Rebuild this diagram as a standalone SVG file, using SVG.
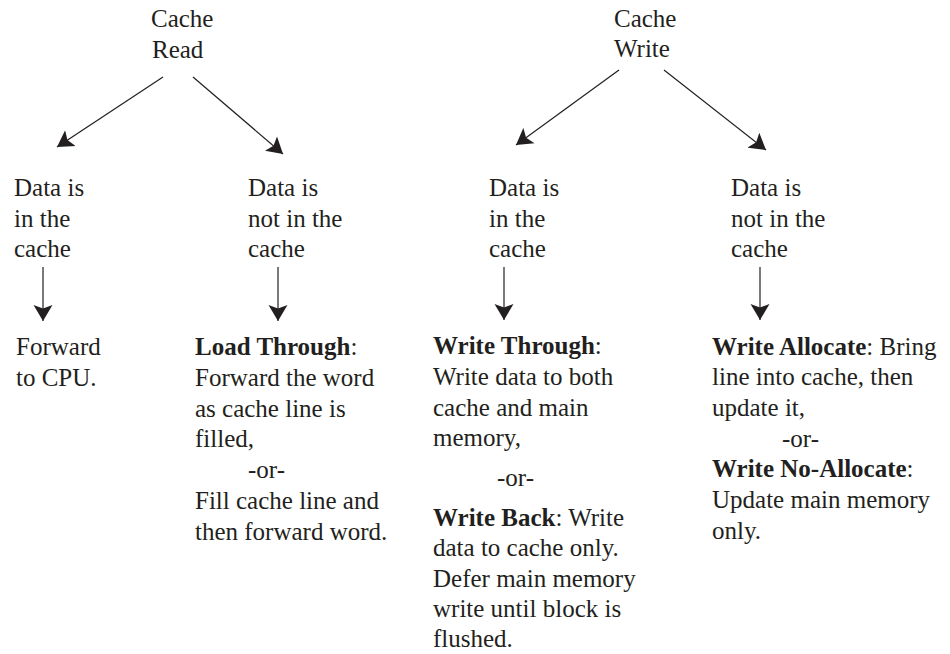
<svg xmlns="http://www.w3.org/2000/svg" width="950" height="654" viewBox="0 0 950 654">
<style>
text{font-family:"Liberation Serif","Times New Roman",serif;font-size:25px;fill:#231f20}
.b{font-weight:bold}
.ln{stroke:#231f20;stroke-width:1.2;fill:none;marker-end:url(#ah)}
</style>
<defs>
<marker id="ah" markerUnits="userSpaceOnUse" markerWidth="17" markerHeight="20" viewBox="0 0 17 20" refX="16" refY="10" orient="auto">
<path d="M16,10 L0,0.5 L3.5,10 L0,19.5 Z" fill="#231f20"/>
</marker>
</defs>
<rect width="950" height="654" fill="#fff"/>
<g id="connectors">
<line class="ln" x1="163" y1="77" x2="57" y2="147"/>
<line class="ln" x1="193" y1="77" x2="283" y2="154"/>
<line class="ln" x1="619" y1="70" x2="516" y2="145"/>
<line class="ln" x1="664" y1="70" x2="766" y2="150"/>
<line class="ln" x1="43" y1="267" x2="43" y2="321"/>
<line class="ln" x1="278" y1="267" x2="278" y2="321"/>
<line class="ln" x1="504" y1="267" x2="504" y2="320"/>
<line class="ln" x1="760" y1="267" x2="760" y2="320"/>
</g>
<g id="cache-read">
<text x="151" y="27">Cache</text>
<text x="152" y="58">Read</text>
</g>
<g id="cache-write">
<text x="614" y="27">Cache</text>
<text x="614" y="57">Write</text>
</g>
<g id="read-hit">
<text x="14" y="196">Data is</text>
<text x="14" y="227">in the</text>
<text x="14" y="257">cache</text>
</g>
<g id="read-miss">
<text x="248" y="196">Data is</text>
<text x="248" y="227">not in the</text>
<text x="248" y="257">cache</text>
</g>
<g id="write-hit">
<text x="489" y="196">Data is</text>
<text x="489" y="227">in the</text>
<text x="489" y="257">cache</text>
</g>
<g id="write-miss">
<text x="731" y="196">Data is</text>
<text x="731" y="227">not in the</text>
<text x="731" y="257">cache</text>
</g>
<g id="forward-cpu">
<text x="16" y="355">Forward</text>
<text x="16" y="386">to CPU.</text>
</g>
<g id="load-through">
<text x="195" y="355"><tspan class="b">Load Through</tspan>:</text>
<text x="195" y="386">Forward the word</text>
<text x="195" y="417">as cache line is</text>
<text x="195" y="447">filled,</text>
<text x="248" y="478">-or-</text>
<text x="195" y="509">Fill cache line and</text>
<text x="195" y="540">then forward word.</text>
</g>
<g id="write-through">
<text x="433" y="354"><tspan class="b">Write Through</tspan>:</text>
<text x="433" y="385">Write data to both</text>
<text x="433" y="416">cache and main</text>
<text x="433" y="446">memory,</text>
<text x="497" y="486">-or-</text>
<text x="433" y="526"><tspan class="b">Write Back</tspan>: Write</text>
<text x="433" y="556">data to cache only.</text>
<text x="433" y="587">Defer main memory</text>
<text x="433" y="617">write until block is</text>
<text x="433" y="647">flushed.</text>
</g>
<g id="write-allocate">
<text x="712" y="355"><tspan class="b">Write Allocate</tspan>: Bring</text>
<text x="712" y="385">line into cache, then</text>
<text x="712" y="416">update it,</text>
<text x="782" y="447">-or-</text>
<text x="712" y="477"><tspan class="b">Write No-Allocate</tspan>:</text>
<text x="712" y="508">Update main memory</text>
<text x="712" y="539">only.</text>
</g>
</svg>
